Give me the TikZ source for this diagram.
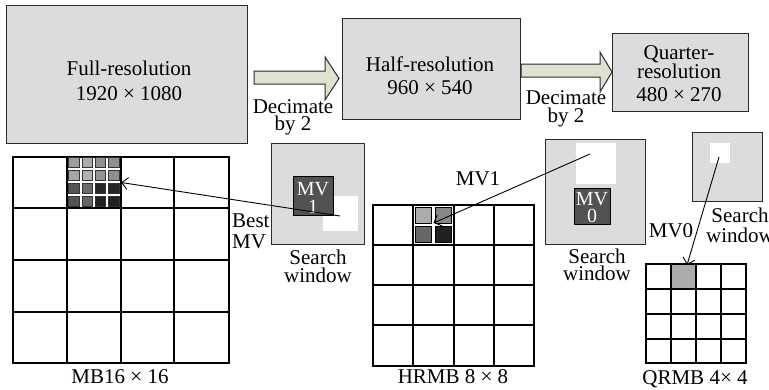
\documentclass[tikz,border=0pt]{standalone}
\usepackage{fontspec}
\setmainfont{Liberation Serif}
\usetikzlibrary{arrows.meta}
\definecolor{boxgray}{HTML}{DCDCDE}
\definecolor{arrowfill}{HTML}{DEE2CE}
\definecolor{edge}{HTML}{2A2A2A}
\definecolor{mvdark}{HTML}{525252}
\begin{document}
\begin{tikzpicture}[x=1pt,y=-1pt,
  gbox/.style={draw=edge, fill=boxgray, line width=1pt, inner sep=0pt, rectangle},
  wsq/.style={fill=white, draw=none, inner sep=0pt, rectangle},
  mvbox/.style={draw=black, fill=mvdark, line width=1pt, inner sep=0pt, rectangle},
  txt/.style={font=\fontsize{21}{21}\selectfont, inner sep=0pt, anchor=base, text=black},
  mvtxt/.style={font=\fontsize{20}{20}\selectfont, inner sep=0pt, anchor=base, text=white},
  gridline/.style={draw=black, line width=1.1pt},
  ptr/.style={draw=black, line width=0.9pt, -{Straight Barb[length=6pt,width=12pt]}},
  blockarrow/.style={draw=edge, fill=arrowfill, line width=1pt, line join=miter},
  subsq/.style={draw=black!80, line width=0.7pt}
]
\useasboundingbox (0,0) rectangle (769,389);

% ---- top row: resolution boxes ----
\node[gbox, minimum width=241pt, minimum height=138pt] (full) at (126.5,74) {};
\node[gbox, minimum width=178pt, minimum height=101pt] (half) at (431,68.5) {};
\node[gbox, minimum width=136pt, minimum height=78pt] (quarter) at (680,72) {};

\node[txt] (fullA) at (129,75) {Full-resolution};
\node[txt] (fullB) at (129,100) {1920 × 1080};
\node[txt] (halfA) at (430,71) {Half-resolution};
\node[txt] (halfB) at (430,94) {960 × 540};
\node[txt] (quarA) at (679,59) {Quarter-};
\node[txt] (quarB) at (679,78) {resolution};
\node[txt] (quarC) at (679,101) {480 × 270};

% block arrows
\draw[blockarrow] (254,71) -- (325,71) -- (325,57) -- (339,78.5) -- (325,100) -- (325,84) -- (254,84) -- cycle;
\draw[blockarrow] (521,64) -- (600,64) -- (600,52) -- (612,72) -- (600,92) -- (600,77) -- (521,77) -- cycle;
\node[txt] (decA1) at (293,113) {Decimate};
\node[txt] (decA2) at (293,130) {by 2};
\node[txt] (decB1) at (566,104) {Decimate};
\node[txt] (decB2) at (566,122) {by 2};

% ---- MB 16x16 grid ----
\draw[gridline] (13,157) rectangle (229,363);
\foreach \x in {67,121,174} \draw[gridline] (\x,157) -- (\x,363);
\foreach \y in {208,260,312} \draw[gridline] (13,\y) -- (229,\y);
\node[inner sep=0pt, minimum width=54pt, minimum height=51pt] (mbblk) at (94,182.5) {};
\foreach \i/\j/\c in {0/0/39,1/0/33,2/0/44,3/0/44,
                      0/1/35,1/1/31,2/1/42,3/1/44,
                      0/2/67,1/2/58,2/2/85,3/2/85,
                      0/3/67,1/3/60,2/3/87,3/3/87}
  \draw[subsq, fill=black!\c] ({68.6+13.4*\i},{157.3+13*\j}) rectangle ++(10.4,9.8);
\node[txt] (mblab) at (120,383) {MB16 × 16};

% ---- search window 1 ----
\node[gbox, minimum width=93pt, minimum height=101pt] (sw1) at (317.5,193.5) {};
\node[wsq, minimum width=35pt, minimum height=35pt] (sw1w) at (340.5,213.5) {};
\node[mvbox, minimum width=40pt, minimum height=39pt] (mv1box) at (313,195.5) {};
\node[mvtxt] (mv1a) at (313,195) {MV};
\node[mvtxt] (mv1b) at (313,213) {1};
\node[txt] (sw1a) at (318,264) {Search};
\node[txt] (sw1b) at (318,282) {window};
\node[txt, anchor=base west] (best1) at (232,227) {Best};
\node[txt, anchor=base west] (best2) at (232,248) {MV};
\coordinate (p1) at (340,216);
\draw[ptr] (p1) -- (mbblk.east);

% ---- HRMB 8x8 grid ----
\draw[gridline] (373,205) rectangle (534,366);
\foreach \x in {413,454,494} \draw[gridline] (\x,205) -- (\x,366);
\foreach \y in {245,285,325} \draw[gridline] (373,\y) -- (534,\y);
\foreach \i/\j/\c in {0/0/33,1/0/47,0/1/60,1/1/87}
  \draw[draw=black, line width=0.9pt, fill=black!\c] ({415+20*\i},{207.5+19*\j}) rectangle ++(16.5,15.5);
\coordinate (hrc) at (433.5,223);
\node[txt] (hrlab) at (453,383) {HRMB 8 × 8};
\node[txt] (mv1lab) at (478,185) {MV1};

% ---- search window 0 ----
\node[gbox, minimum width=100pt, minimum height=105pt] (sw0) at (595,191.5) {};
\node[wsq, minimum width=40pt, minimum height=41pt] (sw0w) at (596,163.5) {};
\node[mvbox, minimum width=36pt, minimum height=36pt] (mv0box) at (592,206) {};
\node[mvtxt] (mv0a) at (592,205) {MV};
\node[mvtxt] (mv0b) at (592,222) {0};
\node[txt] (sw0a) at (597,263) {Search};
\node[txt] (sw0b) at (597,280) {window};
\coordinate (p0) at (590,154);
\draw[ptr] (p0) -- (hrc);

% ---- quarter search window ----
\node[gbox, minimum width=70pt, minimum height=69pt] (swq) at (727,166.5) {};
\node[wsq, minimum width=20pt, minimum height=20pt] (swqw) at (720,153) {};
\node[txt] (swqa) at (740,222) {Search};
\node[txt] (swqb) at (740,242) {window};
\node[txt] (mv0lab) at (671,237) {MV0};

% ---- QRMB 4x4 grid ----
\fill[black!33] (671,264) rectangle (696,289);
\draw[gridline, line width=1.5pt] (646,264) rectangle (746,363);
\foreach \x in {671,696,721} \draw[gridline, line width=1.5pt] (\x,264) -- (\x,363);
\foreach \y in {289,314,339} \draw[gridline, line width=1.5pt] (646,\y) -- (746,\y);
\coordinate (pq) at (719,157);
\coordinate (qtip) at (687,265);
\draw[ptr] (pq) -- (qtip);
\node[txt] (qrlab) at (695,384) {QRMB 4× 4};
\end{tikzpicture}
\end{document}
